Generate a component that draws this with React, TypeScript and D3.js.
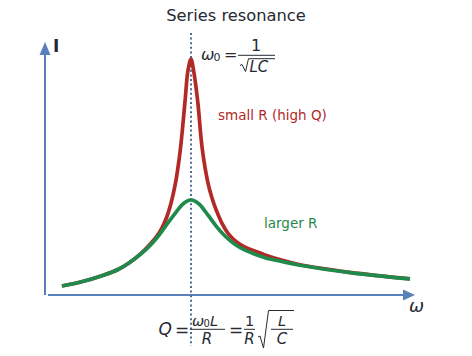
import React from 'react';
import * as d3 from 'd3';

// angular frequency (units of w0) and current amplitude (relative to the small-R peak)
const omegaSmallR = [0.116, 0.25, 0.4, 0.5, 0.58, 0.65, 0.72, 0.78, 0.815, 0.845, 0.89, 0.925, 0.959, 0.979, 1.0, 1.018, 1.046, 1.077, 1.118, 1.155, 1.176, 1.215, 1.255, 1.31, 1.37, 1.44, 1.507, 1.62, 1.747, 2.089, 2.5];
const smallR = [0.038, 0.056, 0.084, 0.108, 0.138, 0.172, 0.215, 0.262, 0.302, 0.35, 0.462, 0.606, 0.82, 0.95, 1.0, 0.95, 0.82, 0.62, 0.47, 0.39, 0.355, 0.3, 0.26, 0.226, 0.203, 0.186, 0.17, 0.148, 0.128, 0.096, 0.068];

const omegaLargerR = [0.116, 0.25, 0.4, 0.5, 0.58, 0.662, 0.72, 0.776, 0.835, 0.89, 0.94, 0.97, 1.0, 1.03, 1.06, 1.118, 1.175, 1.233, 1.3, 1.37, 1.507, 1.62, 1.747, 2.089, 2.5];
const largerR = [0.038, 0.056, 0.084, 0.108, 0.138, 0.177, 0.21, 0.25, 0.3, 0.345, 0.383, 0.397, 0.403, 0.397, 0.383, 0.337, 0.29, 0.25, 0.215, 0.19, 0.158, 0.142, 0.126, 0.095, 0.068];

const W = 472;
const H = 356;
const font = 'DejaVu Sans, sans-serif';
const axisColor = '#5b7fba';
const red = '#b22a27';
const green = '#1f8a4b';
const ink = '#262a33';

export default function App() {
  const x = d3.scaleLinear().domain([0, 2.5]).range([45, 410]);
  const y = d3.scaleLinear().domain([0, 1]).range([295, 59]);

  const curve = (w: number[], amp: number[]) =>
    d3
      .line<number>()
      .x((d, i) => x(w[i]))
      .y(d => y(d))
      .curve(d3.curveCatmullRom.alpha(0.5))(amp) || '';

  const x0 = x(1);

  return (
    <svg width={W} height={H} style={{ position: 'absolute', left: 0, top: 0 }}>
      <rect width={W} height={H} fill="#fff" />
      <text x={236} y={20.5} textAnchor="middle" fontFamily={font} fontSize={16.3} fill={ink}>
        Series resonance
      </text>

      {/* axes with arrow heads */}
      <line x1={x(0)} y1={y(0)} x2={x(0)} y2={54} stroke={axisColor} strokeWidth={2} />
      <path d={`M${x(0)},42 L${x(0) - 5.5},55 L${x(0) + 5.5},55 Z`} fill={axisColor} />
      <line x1={48} y1={y(0)} x2={404} y2={y(0)} stroke={axisColor} strokeWidth={2} />
      <path d={`M415,${y(0)} L403,${y(0) - 5.5} L403,${y(0) + 5.5} Z`} fill={axisColor} />
      <text x={53} y={52} fontFamily={font} fontSize={17} fontWeight="bold" fill={ink}>I</text>
      <text x={409} y={312} fontFamily={font} fontSize={18} fontStyle="italic" fill={ink}>ω</text>

      {/* resonance marker */}
      <line x1={x0} y1={33} x2={x0} y2={346} stroke="#4f6b96" strokeWidth={2} strokeDasharray="2,2.6" />

      <path d={curve(omegaSmallR, smallR)} fill="none" stroke={red} strokeWidth={3.7} />
      <path d={curve(omegaLargerR, largerR)} fill="none" stroke={green} strokeWidth={3.7} />

      <text x={218} y={120} fontFamily={font} fontSize={13.5} fill={red}>small R (high Q)</text>
      <text x={264} y={228} fontFamily={font} fontSize={13.5} fill={green}>larger R</text>

      {/* w0 = 1 / sqrt(LC) */}
      <g fontFamily={font} fill={ink}>
        <text x={201} y={60} fontSize={16} fontStyle="italic">ω</text>
        <text x={213.5} y={61} fontSize={11}>0</text>
        <text x={224} y={60} fontSize={16}>=</text>
        <text x={256} y={50.5} fontSize={16} textAnchor="middle">1</text>
        <line x1={238} y1={55.3} x2={275} y2={55.3} stroke={ink} strokeWidth={1} />
        <path d="M240,65.5 L242,64.5 L245.5,71.5 L248.5,58.7 L275,58.7" fill="none" stroke={ink} strokeWidth={1} />
        <text x={249.5} y={72} fontSize={15} fontStyle="italic">LC</text>
      </g>

      {/* Q = w0 L / R = (1/R) sqrt(L/C) */}
      <g fontFamily={font} fill={ink}>
        <text x={158.5} y={334.5} fontSize={17} fontStyle="italic">Q</text>
        <text x={175} y={336} fontSize={17}>=</text>
        <text x={192} y={325.5} fontSize={14.5} fontStyle="italic">ω</text>
        <text x={203.5} y={326.5} fontSize={10}>0</text>
        <text x={210} y={325.5} fontSize={14.5} fontStyle="italic">L</text>
        <line x1={190} y1={329.3} x2={225} y2={329.3} stroke={ink} strokeWidth={1} />
        <text x={207} y={344} fontSize={15} fontStyle="italic" textAnchor="middle">R</text>
        <text x={229} y={336} fontSize={17}>=</text>
        <text x={249.5} y={325.5} fontSize={14.5} textAnchor="middle">1</text>
        <line x1={244} y1={329.3} x2={255} y2={329.3} stroke={ink} strokeWidth={1} />
        <text x={249.5} y={344} fontSize={15} fontStyle="italic" textAnchor="middle">R</text>
        <path d="M258,337 L260,336 L263.5,348 L268.5,310.5 L294,310.5" fill="none" stroke={ink} strokeWidth={1} />
        <text x={282} y={325.5} fontSize={14.5} fontStyle="italic" textAnchor="middle">L</text>
        <line x1={271} y1={329.3} x2={293} y2={329.3} stroke={ink} strokeWidth={1} />
        <text x={282} y={344} fontSize={15} fontStyle="italic" textAnchor="middle">C</text>
      </g>
    </svg>
  );
}
